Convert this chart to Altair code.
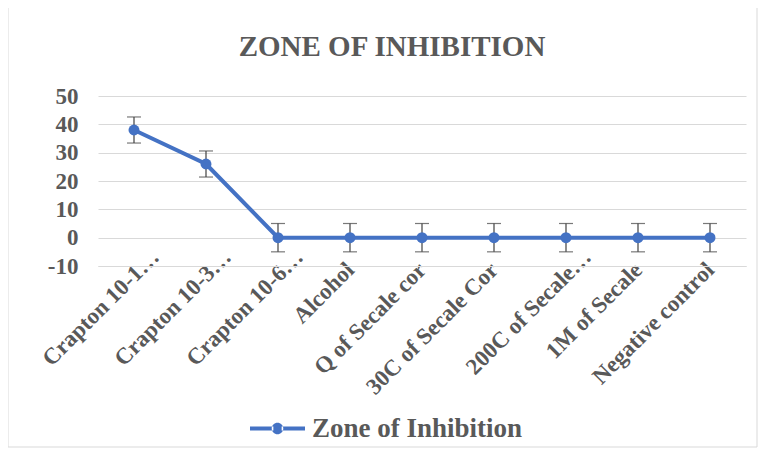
import altair as alt
import pandas as pd

categories = ["Crapton 10-1…", "Crapton 10-3…", "Crapton 10-6…", "Alcohol",
              "Q of Secale cor", "30C of Secale Cor", "200C of Secale…",
              "1M of Secale", "Negative control"]
values = [38, 26, 0, 0, 0, 0, 0, 0, 0]
errors = [4.6, 4.6, 5, 5, 5, 5, 5, 5, 5]
series = "Zone of Inhibition"
y_ticks = [-10, 0, 10, 20, 30, 40, 50]

df = pd.DataFrame({
    "cat": categories,
    "val": values,
    "lo": [v - e for v, e in zip(values, errors)],
    "hi": [v + e for v, e in zip(values, errors)],
    "series": [series] * len(categories),
})

FONT = "Liberation Serif"
GRAY = "#595959"
BLUE = "#4472C4"

W, H = 648, 170

is_trunc = "indexof(datum.label, '…') >= 0"
x_axis = alt.Axis(labelAngle=-45, labelAlign="right", labelBaseline="middle",
                  labelFont=FONT, labelFontSize=23, labelFontWeight="bold",
                  labelColor=GRAY, ticks=False, domainColor="#d9d9d9",
                  labelPadding={"condition": {"test": is_trunc, "value": -13}, "value": 0},
                  labelOffset={"condition": {"test": is_trunc, "value": 21}, "value": 0},
                  grid=False, labelLimit=300, labelOverlap=False)
y_axis = alt.Axis(values=y_ticks, labelExpr="'' + datum.value",
                  labelFont=FONT, labelFontSize=23,
                  labelFontWeight="bold", labelColor=GRAY, domain=False,
                  ticks=False, gridColor="#d9d9d9", labelPadding=20,
                  labelOverlap=False)

x_enc = alt.X("cat:N", sort=categories, title=None,
              scale=alt.Scale(type="point", padding=0.5), axis=x_axis)
y_scale = alt.Scale(domain=[-10, 50], nice=False)

base = alt.Chart(df)

err = base.mark_errorbar(ticks=alt.MarkConfig(size=14, color="#404040", strokeWidth=1.2),
                         color="#404040", thickness=1.2).encode(
    x=x_enc,
    y=alt.Y("lo:Q", scale=y_scale, title=None, axis=y_axis),
    y2="hi:Q",
)

legend_path = ("M-1,-0.075 L-0.15,-0.075 L-0.15,0.075 L-1,0.075 Z "
               "M0.15,-0.075 L1,-0.075 L1,0.075 L0.15,0.075 Z "
               "M-0.21,0 A0.21,0.21 0 1,0 0.21,0 A0.21,0.21 0 1,0 -0.21,0 Z")

line = base.mark_line(strokeWidth=4).encode(
    x=x_enc,
    y=alt.Y("val:Q", scale=y_scale, title=None, axis=y_axis),
    color=alt.Color("series:N", scale=alt.Scale(range=[BLUE]),
                    legend=alt.Legend(title=None, orient="none", legendX=152, legendY=305,
                                      symbolType=legend_path, symbolSize=3025,
                                      symbolFillColor=BLUE, symbolStrokeWidth=0,
                                      labelFont=FONT, labelFontSize=27,
                                      labelFontWeight="bold", labelColor=GRAY,
                                      labelOffset=7, labelLimit=400)),
)
points = base.mark_point(filled=True, size=120, opacity=1).encode(
    x=x_enc,
    y=alt.Y("val:Q", scale=y_scale, title=None, axis=y_axis),
    color=alt.Color("series:N", scale=alt.Scale(range=[BLUE]), legend=None),
)

frame = alt.Chart(pd.DataFrame({"a": [0]})).mark_rect(
    fill=None, stroke="#d9d9d9", strokeWidth=1, clip=False).encode(
    x=alt.value(-90), x2=alt.value(659), y=alt.value(-92), y2=alt.value(351))

chart = alt.layer(frame, err, line, points).properties(
    width=W, height=H,
    title=alt.Title("ZONE OF INHIBITION", font=FONT, fontSize=29, fontWeight="bold",
                    color=GRAY, anchor="middle", offset=0, dy=58, dx=-30, frame="group"),
    autosize=alt.AutoSizeParams(type="none"),
    padding={"left": 90, "top": 88, "right": 14, "bottom": 183},
).configure_view(stroke=None).configure_axis(labelOverlap=False).resolve_scale(color="independent")

chart.save("out.html", embed_options={"renderer": "svg", "actions": False})
